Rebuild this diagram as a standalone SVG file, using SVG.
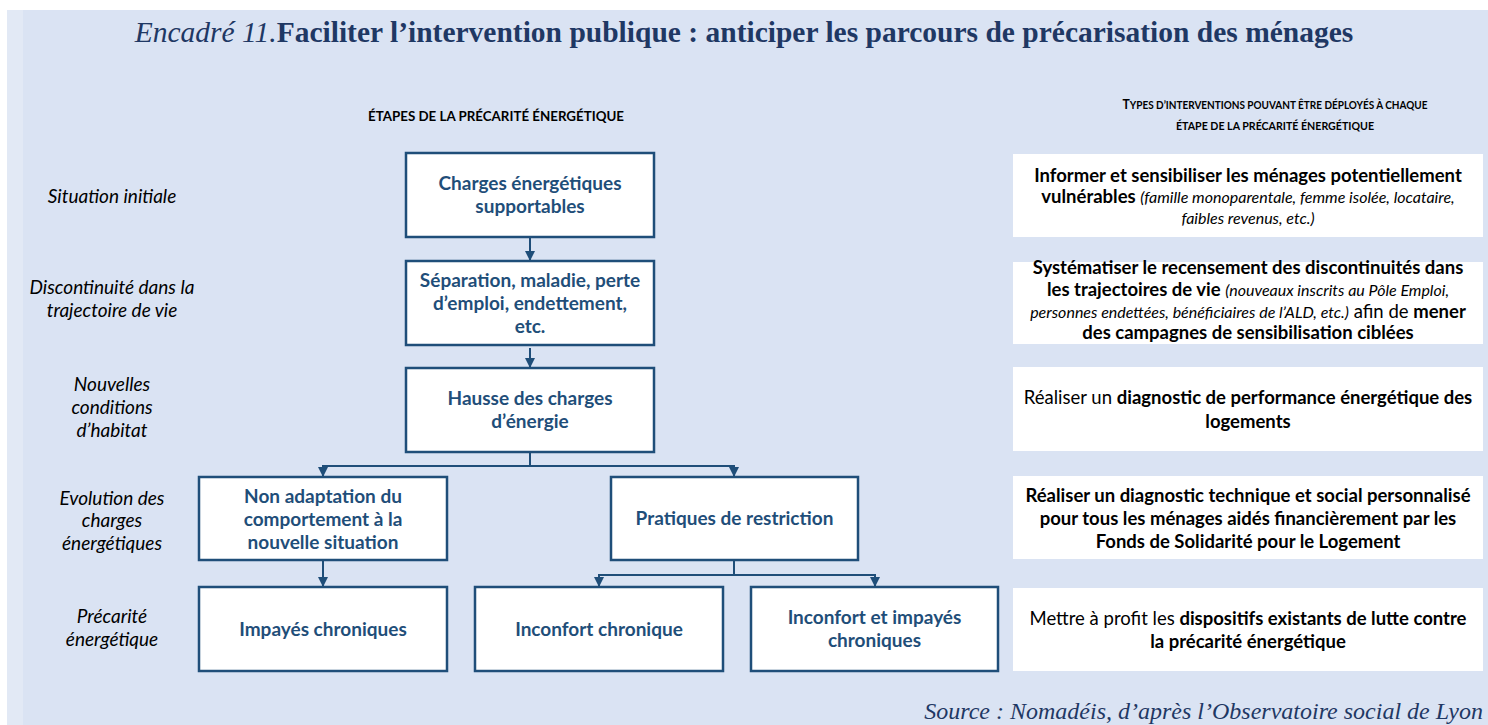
<svg xmlns="http://www.w3.org/2000/svg" width="1488" height="725" viewBox="0 0 1488 725">
<defs>
<style>
.bg{fill:#DAE3F3}
.node rect{fill:#FFFFFF;stroke:#1F4E79;stroke-width:2.5}
.node text{font-family:Lato,"Liberation Sans",sans-serif;font-weight:bold;font-size:19px;fill:#1F4E79;text-anchor:middle}
.lab{font-family:Lato,"Liberation Sans",sans-serif;font-style:italic;font-size:19px;fill:#000;text-anchor:middle}
.hdr{font-family:Lato,"Liberation Sans",sans-serif;font-weight:bold;fill:#000;text-anchor:middle}
.rbox rect{fill:#FFFFFF}
.rbox text{font-family:Lato,"Liberation Sans",sans-serif;font-size:18.5px;fill:#000;text-anchor:middle}
.b{font-weight:bold}
.i{font-style:italic;font-size:16px}
.conn path{fill:none;stroke:#1F4E79;stroke-width:2}
.serif{font-family:"Liberation Serif","Times New Roman",serif;fill:#1F3864}
</style>
<marker id="ah" markerUnits="userSpaceOnUse" markerWidth="12" markerHeight="12" viewBox="0 0 12 12" refX="11" refY="6" orient="auto">
<path d="M1,1 L11,6 L1,11 Z" fill="#1F4E79"/>
</marker>
</defs>

<rect x="0" y="0" width="1488" height="725" fill="#FFFFFF"/>
<rect class="bg" x="7" y="10" width="1481" height="715"/>
<rect x="7" y="10" width="16" height="715" fill="#E2E9F5"/>

<text class="serif" x="744" y="42" font-size="29.5" text-anchor="middle"><tspan font-style="italic">Encadré 11.</tspan><tspan font-weight="bold">Faciliter l’intervention publique : anticiper les parcours de précarisation des ménages</tspan></text>

<text class="hdr" x="496" y="121" font-size="13" textLength="256" lengthAdjust="spacingAndGlyphs">ÉTAPES DE LA PRÉCARITÉ ÉNERGÉTIQUE</text>
<text class="hdr" x="1275" y="109" font-size="11.5" textLength="305" lengthAdjust="spacingAndGlyphs"><tspan font-size="14">T</tspan>YPES D’INTERVENTIONS POUVANT ÊTRE DÉPLOYÉS À CHAQUE</text>
<text class="hdr" x="1275" y="130" font-size="11.5" textLength="198" lengthAdjust="spacingAndGlyphs">ÉTAPE DE LA PRÉCARITÉ ÉNERGÉTIQUE</text>

<g id="labels">
<text class="lab" x="112" y="203">Situation initiale</text>
<text class="lab" x="112" y="294">Discontinuité dans la</text>
<text class="lab" x="112" y="317">trajectoire de vie</text>
<text class="lab" x="112" y="391">Nouvelles</text>
<text class="lab" x="112" y="414">conditions</text>
<text class="lab" x="112" y="437">d’habitat</text>
<text class="lab" x="112" y="505">Evolution des</text>
<text class="lab" x="112" y="527">charges</text>
<text class="lab" x="112" y="550">énergétiques</text>
<text class="lab" x="112" y="623">Précarité</text>
<text class="lab" x="112" y="646">énergétique</text>
</g>

<g id="connectors" class="conn">
<path d="M530,237 V261" marker-end="url(#ah)"/>
<path d="M530,348 V368" marker-end="url(#ah)"/>
<path d="M530,452 V466 H323 V477" marker-end="url(#ah)"/>
<path d="M530,466 H734 V477" marker-end="url(#ah)"/>
<path d="M323,560 V587" marker-end="url(#ah)"/>
<path d="M734,561 V575 H599 V587" marker-end="url(#ah)"/>
<path d="M734,575 H875 V587" marker-end="url(#ah)"/>
</g>

<g id="n-charges" class="node">
<rect x="406" y="153" width="248" height="84"/>
<text x="530" y="190">Charges énergétiques</text>
<text x="530" y="213">supportables</text>
</g>
<g id="n-separation" class="node">
<rect x="406" y="261" width="248" height="84"/>
<text x="530" y="287">Séparation, maladie, perte</text>
<text x="530" y="310">d’emploi, endettement,</text>
<text x="530" y="333">etc.</text>
</g>
<g id="n-hausse" class="node">
<rect x="406" y="368" width="248" height="84"/>
<text x="530" y="405">Hausse des charges</text>
<text x="530" y="428">d’énergie</text>
</g>
<g id="n-nonadapt" class="node">
<rect x="199" y="477" width="248" height="83"/>
<text x="323" y="503">Non adaptation du</text>
<text x="323" y="526">comportement à la</text>
<text x="323" y="549">nouvelle situation</text>
</g>
<g id="n-restriction" class="node">
<rect x="611" y="477" width="247" height="83"/>
<text x="734.5" y="525">Pratiques de restriction</text>
</g>
<g id="n-impayes" class="node">
<rect x="199" y="587" width="248" height="84"/>
<text x="323" y="636">Impayés chroniques</text>
</g>
<g id="n-inconfort" class="node">
<rect x="475" y="587" width="248" height="84"/>
<text x="599" y="636">Inconfort chronique</text>
</g>
<g id="n-inconfort-impayes" class="node">
<rect x="751" y="587" width="247" height="84"/>
<text x="874.5" y="624">Inconfort et impayés</text>
<text x="874.5" y="647">chroniques</text>
</g>

<g id="r-informer" class="rbox">
<rect x="1013" y="154" width="470" height="83"/>
<text x="1248" y="182" class="b">Informer et sensibiliser les ménages potentiellement</text>
<text x="1248" y="203"><tspan class="b">vulnérables </tspan><tspan class="i">(famille monoparentale, femme isolée, locataire,</tspan></text>
<text x="1248" y="224"><tspan class="i">faibles revenus, etc.)</tspan></text>
</g>
<g id="r-systematiser" class="rbox">
<rect x="1013" y="262" width="470" height="82"/>
<text x="1248" y="274" class="b">Systématiser le recensement des discontinuités dans</text>
<text x="1248" y="296"><tspan class="b">les trajectoires de vie </tspan><tspan class="i">(nouveaux inscrits au Pôle Emploi,</tspan></text>
<text x="1248" y="318"><tspan class="i">personnes endettées, bénéficiaires de l’ALD, etc.)</tspan> afin de <tspan class="b">mener</tspan></text>
<text x="1248" y="339" class="b">des campagnes de sensibilisation ciblées</text>
</g>
<g id="r-diagnostic" class="rbox">
<rect x="1013" y="367" width="470" height="84"/>
<text x="1248" y="404">Réaliser un <tspan class="b">diagnostic de performance énergétique des</tspan></text>
<text x="1248" y="428" class="b">logements</text>
</g>
<g id="r-technique" class="rbox">
<rect x="1013" y="476" width="470" height="83"/>
<text x="1248" y="502" class="b">Réaliser un diagnostic technique et social personnalisé</text>
<text x="1248" y="525" class="b">pour tous les ménages aidés financièrement par les</text>
<text x="1248" y="548" class="b">Fonds de Solidarité pour le Logement</text>
</g>
<g id="r-dispositifs" class="rbox">
<rect x="1013" y="588" width="470" height="83"/>
<text x="1248" y="625">Mettre à profit les <tspan class="b">dispositifs existants de lutte contre</tspan></text>
<text x="1248" y="648" class="b">la précarité énergétique</text>
</g>

<text class="serif" x="1483" y="719" font-size="24" font-style="italic" text-anchor="end">Source : Nomadéis, d’après l’Observatoire social de Lyon</text>
</svg>
